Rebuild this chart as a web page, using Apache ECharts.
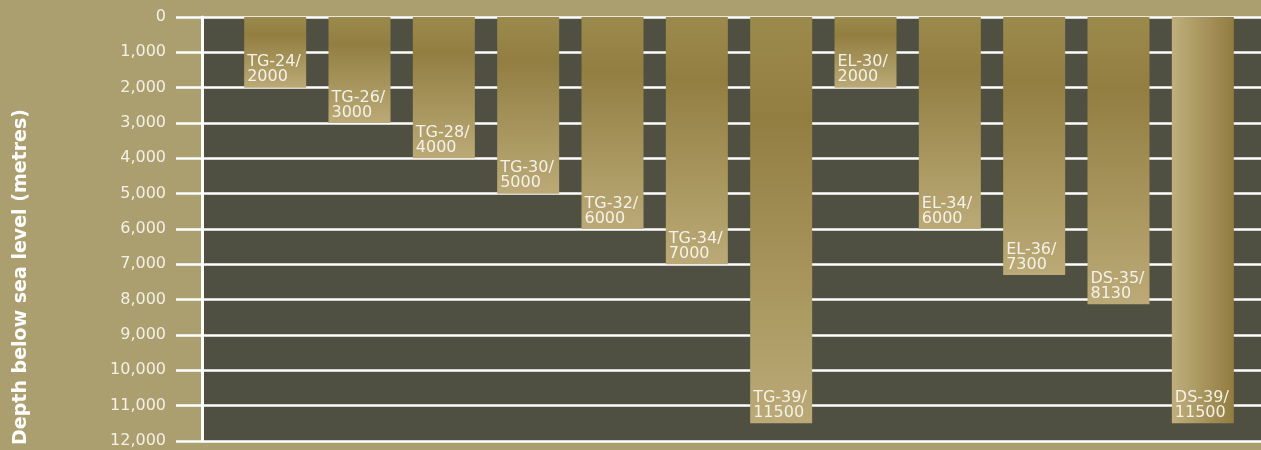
<!DOCTYPE html>
<html>
<head>
<meta charset="utf-8">
<script src="https://cdn.jsdelivr.net/npm/echarts@6/dist/echarts.min.js"></script>
<style>
html,body{margin:0;padding:0;background:#ab9f70;}
#chart{width:1261px;height:450px;}
</style>
</head>
<body>
<div id="chart"></div>
<script>
const categories = ['TG-24','TG-26','TG-28','TG-30','TG-32','TG-34','TG-39','EL-30','EL-34','EL-36','DS-35','DS-39'];
const depths = [2000,3000,4000,5000,6000,7000,11500,2000,6000,7300,8130,11500];
const yTicks = [0,1000,2000,3000,4000,5000,6000,7000,8000,9000,10000,11000,12000];
const yTitle = 'Depth below sea level (metres)';

const vGrad = new echarts.graphic.LinearGradient(0,0,0,1,[
  {offset:0,color:'#9c8a4c'},{offset:0.25,color:'#927e41'},{offset:1,color:'#bbaa77'}]);
const hGrad = new echarts.graphic.LinearGradient(0,0,1,0,[
  {offset:0,color:'#c0af7c'},{offset:1,color:'#917c40'}]);

const barData = depths.map((v,i)=>({
  value:v,
  itemStyle:{color: i===depths.length-1 ? hGrad : vGrad}
}));

const fmt = v => String(v).replace(/\B(?=(\d{3})+(?!\d))/g, ',');
const yMin = yTicks[0], yMax = yTicks[yTicks.length-1], yInt = yTicks[1]-yTicks[0];

const chart = echarts.init(document.getElementById('chart'));
chart.setOption({
  backgroundColor:'#ab9f70',
  animation:false,
  grid:[
    {left:202,right:0,top:17,height:424,show:true,backgroundColor:'#4f5042',borderWidth:0},
    {left:233,right:16,top:17,height:424}
  ],
  xAxis:[
    {gridIndex:0,type:'value',min:0,max:1,show:false},
    {gridIndex:1,type:'category',data:categories,show:false}
  ],
  yAxis:[
    {gridIndex:0,type:'value',inverse:true,min:yMin,max:yMax,interval:yInt,
     axisLine:{show:true,lineStyle:{color:'#ffffff',width:3}},
     axisTick:{show:true,length:26,lineStyle:{color:'#ffffff',width:2.5}},
     splitLine:{show:true,lineStyle:{color:'#ffffff',width:2.5}},
     axisLabel:{color:'#f4f0e4',fontFamily:'DejaVu Sans',fontSize:16,margin:36,formatter:v=>fmt(v)}
    },
    {gridIndex:1,type:'value',inverse:true,min:yMin,max:yMax,interval:yInt,show:false,splitLine:{show:false}}
  ],
  graphic:[{
    type:'text',
    x:21,y:277,
    rotation:Math.PI/2,
    style:{text:yTitle,fill:'#ffffff',font:'bold 19px "DejaVu Sans"',align:'center',verticalAlign:'middle'}
  }],
  series:[{
    type:'bar',xAxisIndex:1,yAxisIndex:1,
    barWidth:62,
    data:barData,
    label:{show:true,position:'insideBottomLeft',distance:3,
      color:'#f4f1e8',fontFamily:'DejaVu Sans',fontSize:16,lineHeight:15,align:'left',
      formatter:p=>p.name+'/\n'+p.value}
  }]
});
</script>
</body>
</html>
